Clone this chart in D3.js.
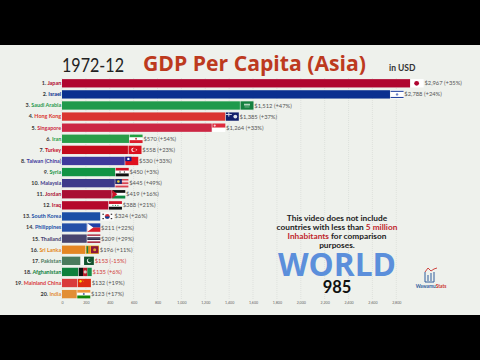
<!DOCTYPE html>
<meta charset="utf-8">
<style>
body { margin: 0; background: #000; overflow: hidden; }
svg { display: block; font-family: Lato, sans-serif; }
.grid { stroke: #cfd3cf; stroke-width: 0.5; stroke-dasharray: 1 1; }
</style>
<body>
<script src="https://d3js.org/d3.v7.min.js"></script>
<script>
// chart values
var countries = ["Japan", "Israel", "Saudi Arabia", "Hong Kong", "Singapore", "Iran", "Turkey",
  "Taiwan (China)", "Syria", "Malaysia", "Jordan", "Iraq", "South Korea", "Philippines",
  "Thailand", "Sri Lanka", "Pakistan", "Afghanistan", "Mainland China", "India"];
// the label value
var values = [2967, 2788, 1512, 1385, 1264, 570, 558, 530, 450, 445, 419, 388, 324, 211, 209, 196, 153, 135, 132, 123];
// the bar lags its label a bit in this frame of the video
var barValues = [2915, 2747, 1490, 1367, 1254, 561, 552, 525, 445, 442, 416, 388, 320, 207, 207, 196, 153, 135, 128, 123];
var changes = ["+35%", "+24%", "+47%", "+37%", "+33%", "+54%", "+23%", "+33%", "+3%", "+49%", "+16%", "+21%", "+26%", "+22%", "+29%", "+11%", "-15%", "+6%", "+19%", "+17%"];
var colors = ["#b0052f", "#0a2f8f", "#1f9a4c", "#da3532", "#cc2744", "#2a9d48", "#c40b1c", "#3f3a9c", "#129444", "#3d3a8a",
  "#a90f33", "#b5092b", "#1b4fa6", "#2450a8", "#48456f", "#e58623", "#4a7a5c", "#0e7f3c", "#d93a3c", "#e28e35"];
var redLabels = ["Pakistan", "Afghanistan"];
var ticks = d3.range(0, 2801, 200);

var width = 480, height = 360,
    x = d3.scaleLinear().domain([0, 2800]).range([62, 396.3]),
    y = d3.scaleBand().domain(countries).range([77.8, 299.6]).paddingInner(0.25).paddingOuter(0.12),
    fmt = d3.format(",");

var svg = d3.select("body").append("svg").attr("width", width).attr("height", height);
svg.append("rect").attr("y", 45).attr("width", width).attr("height", 270).attr("fill", "#eef1ec");

// grid and axis
var xAxis = d3.axisBottom(x).tickValues(ticks).tickSize(0).tickPadding(0).tickFormat(fmt);
svg.append("g").attr("transform", "translate(0,301.5)").call(xAxis)
  .call(function(g) {
    g.select(".domain").remove();
    g.selectAll("text").attr("font-size", 3.6).attr("fill", "#666").attr("font-family", "Lato");
  });
svg.append("g").selectAll("line").data(ticks).enter().append("line")
  .attr("class", "grid")
  .attr("x1", function(d) { return x(d); }).attr("x2", function(d) { return x(d); })
  .attr("y1", 78).attr("y2", 300);

// flags, drawn in local coords, w x h
function stripes(g, w, h, cols) {
  cols.forEach(function(c, i) {
    g.append("rect").attr("y", i * h / cols.length).attr("width", w).attr("height", h / cols.length + 0.1).attr("fill", c);
  });
}
function box(g, a, b, w, h, c) { g.append("rect").attr("x", a).attr("y", b).attr("width", w).attr("height", h).attr("fill", c); }
function dot(g, a, b, r, c) { g.append("circle").attr("cx", a).attr("cy", b).attr("r", r).attr("fill", c); }
function tri(g, pts, c) { g.append("polygon").attr("points", pts.join(" ")).attr("fill", c); }
var flags = {
  "Japan": function(g, w, h) { box(g, 0, 0, w, h, "#fff"); dot(g, w / 2 - 0.5, h / 2, 2.4, "#b0052f"); },
  "Israel": function(g, w, h) { box(g, 0, 0, w, h, "#fff"); box(g, 0, 0.6, w, 1, "#1a3c9c"); box(g, 0, h - 1.6, w, 1, "#1a3c9c"); dot(g, w / 2, h / 2, 1.2, "#6a83c4"); },
  "Saudi Arabia": function(g, w, h) { box(g, 0, 0, w, h, "#14813f"); box(g, 3.5, 2.4, 6, 1.8, "#b5d8c0"); box(g, 4, 5.4, 5, 0.5, "#d5e8da"); },
  "Hong Kong": function(g, w, h) { box(g, 0, 0, w, h, "#12206b"); box(g, 0, 1.6, 6, 1, "#d5d5e5"); box(g, 2.5, 0, 1, 4.2, "#d5d5e5"); dot(g, 9.5, h / 2, 1.9, "#dfe3ea"); },
  "Singapore": function(g, w, h) { stripes(g, w, h, ["#de2a3c", "#fff"]); dot(g, 2.4, 2.1, 1.1, "#f6cdd0"); },
  "Iran": function(g, w, h) { stripes(g, w, h, ["#239f40", "#fff", "#da1c2b"]); dot(g, w / 2, h / 2, 1, "#c8404a"); },
  "Turkey": function(g, w, h) { box(g, 0, 0, w, h, "#d9101e"); dot(g, 5, h / 2, 2.2, "#fff"); dot(g, 5.7, h / 2, 1.8, "#d9101e"); dot(g, 8, h / 2, 0.7, "#fff"); },
  "Taiwan (China)": function(g, w, h) { box(g, 0, 0, w, h, "#e0101e"); box(g, 0, 0, 6.2, h / 2 + 0.2, "#12208c"); dot(g, 3.1, h / 4, 1.2, "#fff"); },
  "Syria": function(g, w, h) { stripes(g, w, h, ["#ce1126", "#fff", "#111"]); dot(g, 4.3, h / 2, 0.7, "#444"); dot(g, 8.7, h / 2, 0.7, "#444"); },
  "Malaysia": function(g, w, h) { stripes(g, w, h, ["#d9414f", "#f3d5d8", "#d9414f", "#f3d5d8", "#d9414f"]); box(g, 0, 0, 6.5, h * 0.6, "#1a2770"); dot(g, 3, h * 0.3, 1.3, "#f2d23c"); },
  "Jordan": function(g, w, h) { stripes(g, w, h, ["#111", "#fff", "#0e8a42"]); tri(g, [[0, 0], [5, h / 2], [0, h]], "#ce1126"); },
  "Iraq": function(g, w, h) { stripes(g, w, h, ["#ce1126", "#fff", "#111"]); dot(g, 4, h / 2, 0.6, "#1c8a48"); dot(g, 6.5, h / 2, 0.6, "#1c8a48"); dot(g, 9, h / 2, 0.6, "#1c8a48"); },
  "South Korea": function(g, w, h) { box(g, 0, 0, w, h, "#fbfbfb"); dot(g, w / 2, h / 2, 2.4, "#cd2e3a"); g.append("path").attr("d", "M" + (w / 2 - 2.4) + "," + (h / 2) + "a2.4,2.4 0 0 0 4.8,0z").attr("fill", "#0047a0"); box(g, 1.6, 1.4, 1.5, 1.2, "#333"); box(g, w - 3.1, 1.4, 1.5, 1.2, "#333"); box(g, 1.6, h - 2.6, 1.5, 1.2, "#333"); box(g, w - 3.1, h - 2.6, 1.5, 1.2, "#333"); },
  "Philippines": function(g, w, h) { stripes(g, w, h, ["#1f3fa8", "#d81e2c"]); tri(g, [[0, 0], [6, h / 2], [0, h]], "#fff"); },
  "Thailand": function(g, w, h) { stripes(g, w, h, ["#a51931", "#f4f5f8", "#2d2a4a", "#2d2a4a", "#f4f5f8", "#a51931"]); },
  "Sri Lanka": function(g, w, h) { box(g, 0, 0, w, h, "#eeb321"); box(g, 0.6, 0.6, 1.8, h - 1.2, "#1a7a3e"); box(g, 2.4, 0.6, 1.8, h - 1.2, "#e8851c"); box(g, 5, 0.6, 7.4, h - 1.2, "#8d153a"); dot(g, 8.7, h / 2, 1.5, "#d9a62c"); },
  "Pakistan": function(g, w, h) { box(g, 0, 0, 3.2, h, "#f8f8f8"); box(g, 3.2, 0, w - 3.2, h, "#12532e"); dot(g, 8.4, h / 2, 2.4, "#fff"); dot(g, 9.2, h / 2 - 0.5, 2.1, "#12532e"); },
  "Afghanistan": function(g, w, h) { box(g, 0, 0, w / 3, h, "#111"); box(g, w / 3, 0, w / 3, h, "#b81c2b"); box(g, 2 * w / 3, 0, w / 3, h, "#128a45"); dot(g, w / 2, h / 2, 1.6, "#d9c9c0"); },
  "Mainland China": function(g, w, h) { box(g, 0, 0, w, h, "#de2910"); dot(g, 2.6, 2.4, 1.2, "#ffde00"); dot(g, 5, 1.2, 0.35, "#ffde00"); dot(g, 5.6, 2.6, 0.35, "#ffde00"); },
  "India": function(g, w, h) { stripes(g, w, h, ["#f0973a", "#fff", "#138808"]); dot(g, w / 2, h / 2, 1, "#5a6aa8"); }
};

// bars, labels, flags
var rows = svg.append("g").selectAll("g").data(countries).enter().append("g")
  .attr("transform", function(d) { return "translate(0," + y(d) + ")"; });
var bh = y.bandwidth(), fw = 13;

rows.append("rect")
  .attr("x", x(0))
  .attr("width", function(d, i) { return x(barValues[i]) - x(0); })
  .attr("height", bh)
  .attr("fill", function(d, i) { return colors[i]; });

var names = rows.append("text")
  .attr("x", x(0) - 0.8).attr("y", bh / 2).attr("dy", "0.35em")
  .attr("text-anchor", "end").attr("font-size", 5.4).attr("font-weight", 700);
names.append("tspan").attr("fill", "#333").text(function(d, i) { return (i + 1) + ". "; });
names.append("tspan").attr("fill", function(d, i) { return colors[i]; }).text(function(d) { return d; });

rows.each(function(d, i) {
  var g = d3.select(this).append("g").attr("transform", "translate(" + (x(barValues[i]) + 0.6) + ",0)");
  flags[d](g, fw, bh);
});

rows.append("text")
  .attr("x", function(d, i) { return x(barValues[i]) + fw + 1.4; })
  .attr("y", bh / 2).attr("dy", "0.35em")
  .attr("font-size", 5.8)
  .attr("fill", function(d) { return redLabels.indexOf(d) >= 0 ? "#d13b3b" : "#555"; })
  .text(function(d, i) { return "$" + fmt(values[i]) + " (" + changes[i] + ")"; });

// titles
svg.append("text").attr("x", 62).attr("y", 71.5).attr("font-size", 19).attr("font-family", "Lato").attr("fill", "#222")
  .attr("textLength", 62).attr("lengthAdjust", "spacingAndGlyphs").text("1972-12");
svg.append("text").attr("x", 143).attr("y", 71).attr("font-size", 21).attr("font-weight", 700).attr("font-family", "Open Sans").attr("fill", "#bd3a1e")
  .attr("textLength", 223).attr("lengthAdjust", "spacingAndGlyphs").text("GDP Per Capita (Asia)");
svg.append("text").attr("x", 389).attr("y", 71).attr("font-size", 8.5).attr("font-weight", 700).attr("fill", "#333").text("in USD");

// note
var note = svg.append("g").attr("font-size", 8.3).attr("font-weight", 700).attr("text-anchor", "middle").attr("fill", "#222");
note.append("text").attr("x", 337).attr("y", 221).text("This video does not include");
var l2 = note.append("text").attr("x", 337).attr("y", 230);
l2.append("tspan").text("countries with less than ");
l2.append("tspan").attr("fill", "#c0272d").text("5 million");
var l3 = note.append("text").attr("x", 337).attr("y", 239);
l3.append("tspan").attr("fill", "#c0272d").text("Inhabitants");
l3.append("tspan").text(" for comparison");
note.append("text").attr("x", 337).attr("y", 248).text("purposes.");

svg.append("text").attr("x", 337).attr("y", 276).attr("text-anchor", "middle").attr("font-size", 32).attr("font-weight", 700).attr("font-family", "Open Sans").attr("fill", "#5b8fdb")
  .attr("textLength", 118).attr("lengthAdjust", "spacingAndGlyphs").text("WORLD");
svg.append("text").attr("x", 337).attr("y", 293).attr("text-anchor", "middle").attr("font-size", 16.5).attr("font-weight", 700).attr("font-family", "Lato").attr("fill", "#111").text("985");

// logo
var logo = svg.append("g");
logo.append("path").attr("d", "M425,272V282H434V272M428,275V281M431,273V281").attr("fill", "none").attr("stroke", "#2f5d9c").attr("stroke-width", 1);
logo.append("path").attr("d", "M425,272L428,268L431,271L434,269L437,268").attr("fill", "none").attr("stroke", "#c9302c").attr("stroke-width", 0.9);
logo.append("text").attr("x", 431).attr("y", 288).attr("text-anchor", "middle").attr("font-size", 4.8).attr("font-weight", 700).attr("fill", "#2f5d9c").text("Wawamu")
  .append("tspan").attr("fill", "#c9302c").text("Stats");
</script>
</body>
